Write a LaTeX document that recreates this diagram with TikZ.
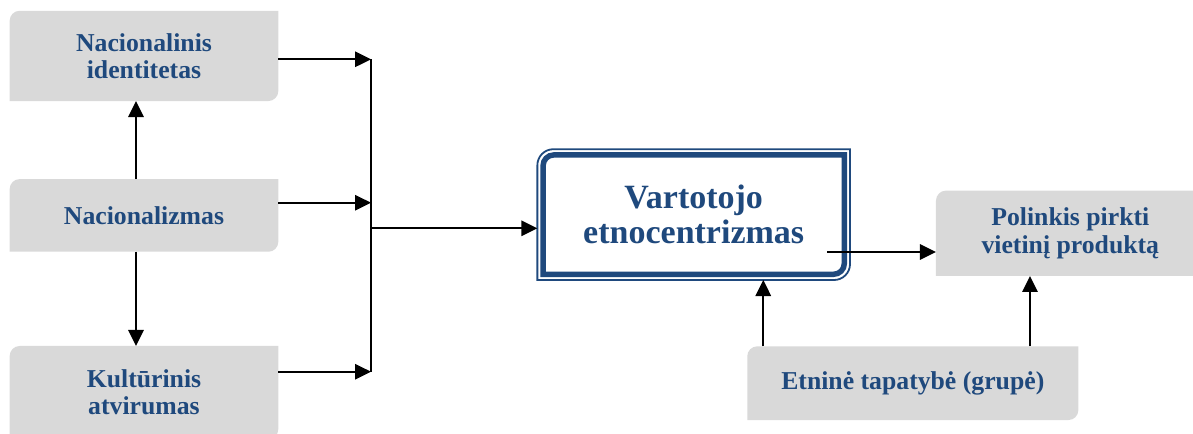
\documentclass[tikz,border=0pt]{standalone}
\usepackage{fontspec}
\setmainfont{Liberation Serif}
\usetikzlibrary{arrows.meta,backgrounds}
\definecolor{boxgrey}{HTML}{D9D9D9}
\definecolor{titleblue}{HTML}{1F497D}
\tikzset{
  factor/.style={text=titleblue, font=\bfseries\fontsize{19.3}{20.3}\selectfont, align=center, inner sep=0pt},
  mainfactor/.style={factor, font=\bfseries\fontsize{25.5}{26.3}\selectfont}
}
% box with the top left and bottom right corners rounded
\newcommand{\cutcorners}[4]{%
  \path[#1] ([shift={(#3,#3)}]#2.south west) -- ([shift={(#3,-#3-#4)}]#2.north west)
    arc[start angle=180, end angle=90, radius=#4] -- ([shift={(-#3,-#3)}]#2.north east)
    -- ([shift={(-#3,#3+#4)}]#2.south east) arc[start angle=0, end angle=-90, radius=#4] -- cycle;}
\begin{document}
  \begin{tikzpicture}[x=0.75pt, y=-0.75pt, line width=1.5pt, >={Triangle[length=12pt, width=11.5pt]}]
    \useasboundingbox (0,0) rectangle (1193,433);
    % left column
    \node[factor, minimum width=200pt, minimum height=66.2pt] (ident) at (144,55.9) {Nacionalinis\\identitetas};
    \node[factor, minimum width=200pt, minimum height=53pt] (nat) at (144,215.4) {Nacionalizmas};
    \node[factor, minimum width=200pt, minimum height=68.3pt] (kult) at (144,392.5) {Kultūrinis\\atvirumas};
    % centre and right
    \node[mainfactor, minimum width=233pt, minimum height=96.6pt] (cen) at (693.7,214.6) {Vartotojo\\etnocentrizmas};
    \node[factor, minimum width=200pt, minimum height=62.5pt] (pol) at (1070.3,233.3) {Polinkis pirkti\\vietinį produktą};
    \node[factor, minimum width=246.8pt, minimum height=53.8pt] (etn) at (912.8,383.2) {Etninė tapatybė (grupė)};
    \begin{scope}[on background layer]
      \foreach \n in {ident,nat,kult,pol,etn} {\cutcorners{fill=boxgrey}{\n}{0pt}{7.5pt}}
      \cutcorners{fill=white, draw=titleblue, line width=1.35pt}{cen}{0pt}{12pt}
      \cutcorners{draw=titleblue, line width=4.1pt}{cen}{4.3pt}{8pt}
    \end{scope}
    \coordinate (jA) at (371,59.3);
    \coordinate (jB) at (371,202.7);
    \coordinate (jC) at (371,371.7);
    \coordinate (jM) at (371,228.3);
    \coordinate (out) at (827,252);
    \draw[->] (nat.north -| 136,0) -- (ident.south -| 136,0);
    \draw[->] (nat.south -| 136,0) -- (kult.north -| 136,0);
    \draw[->] (ident.east |- jA) -- (jA);
    \draw[->] (nat.east |- jB) -- (jB);
    \draw[->] (kult.east |- jC) -- (jC);
    \draw (jA) -- (jC);
    \draw[->] (jM) -- (cen.west |- jM);
    \draw[->] (out) -- (pol.west |- out);
    \draw[->] (etn.north -| 763.3,0) -- (cen.south -| 763.3,0);
    \draw[->] (etn.north -| 1030,0) -- (pol.south -| 1030,0);
  \end{tikzpicture}
\end{document}
